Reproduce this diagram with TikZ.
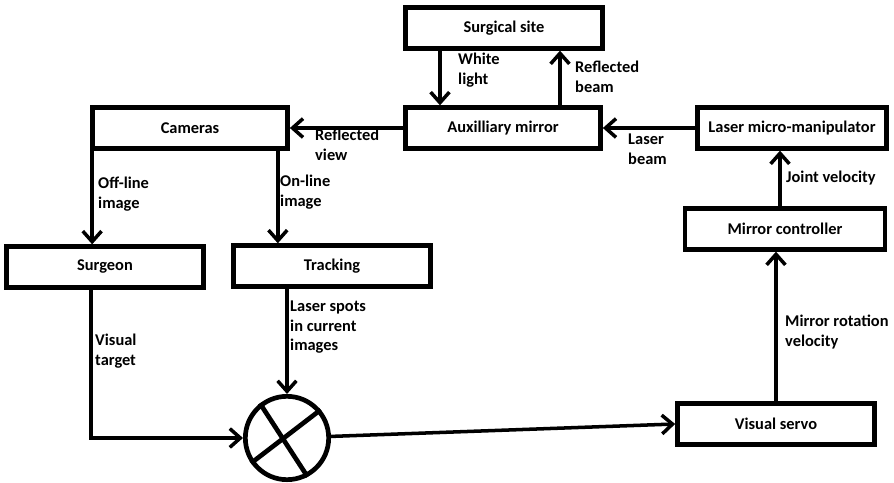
\documentclass[tikz,border=0pt]{standalone}
\usepackage{fontspec}
\setmainfont{Carlito}
\usepackage{tikz}
\usetikzlibrary{arrows.meta,positioning,calc}

\begin{document}
\begin{tikzpicture}[
    x=0.03cm, y=-0.03cm,
    box/.style={draw, line width=4pt, minimum height=1.22cm, align=center, font=\fontsize{14}{16.5}\selectfont\bfseries},
    lbl/.style={anchor=north west, align=left, inner sep=0pt, font=\fontsize{14}{16.5}\selectfont\bfseries},
    arrow/.style={-{Straight Barb[length=9pt, width=16pt, line width=3pt]}, line width=3pt}
]
    \useasboundingbox (0,0) rectangle (894,483);

    \node[box, minimum width=5.91cm] (site) at (504,28) {Surgical site};
    \node[box, minimum width=5.85cm] (aux) at (503,128) {Auxilliary mirror};
    \node[box, minimum width=5.85cm] (cameras) at (190,128) {Cameras};
    \node[box, minimum width=5.67cm] (laser) at (792,128) {Laser micro-manipulator};
    \node[box, minimum width=6.0cm] (ctrl) at (785,229) {Mirror controller};
    \node[box, minimum width=5.91cm] (surgeon) at (105,267) {Surgeon};
    \node[box, minimum width=5.91cm] (tracking) at (332,266) {Tracking};
    \node[box, minimum width=5.91cm] (servo) at (776,424) {Visual servo};
    \node[draw, circle, line width=4pt, minimum size=2.5cm, inner sep=0pt] (sum) at (287,438) {};
    \draw[line width=4pt] (sum.128) -- (sum.-62);
    \draw[line width=4pt] (sum.40) -- (sum.215);

    % Mirror loop at the top
    \draw[arrow] ($(site.south)+(-64,0)$) -- ($(aux.north)+(-63,0)$);
    \node[lbl] (white) at (458,53) {White\\light};
    \draw[arrow] ($(aux.north)+(57,0)$) -- ($(site.south)+(56,0)$);
    \node[lbl] (refbeam) at (575,61) {Reflected\\beam};
    \draw[arrow] (aux.west) -- (cameras.east);
    \node[lbl] (refview) at (315,129) {Reflected\\view};
    \draw[arrow] (laser.west) -- (aux.east);
    \node[lbl] (beam) at (628,134) {Laser\\beam};

    % Cameras to surgeon and tracking
    \coordinate (offtop) at ($(cameras.south west)+(2,0)$);
    \coordinate (ontop) at ($(cameras.south east)+(-12,0)$);
    \draw[arrow] (offtop) -- (offtop |- surgeon.north);
    \node[lbl] (offline) at (98,177) {Off-line\\image};
    \draw[arrow] (ontop) -- (ontop |- tracking.north);
    \node[lbl] (online) at (280,175) {On-line\\image};

    % Comparison
    \draw[arrow] (sum.north |- tracking.south) -- (sum.north);
    \node[lbl] (spots) at (290,301) {Laser spots\\in current\\images};
    \coordinate (goal) at ($(surgeon.south)+(-14,0)$);
    \draw[arrow] (goal) |- (sum.west);
    \node[lbl] (target) at (95,334) {Visual\\target};
    \draw[arrow] (sum) -- (servo.west);

    % Servo loop
    \draw[arrow] (servo.north) -- (servo.north |- ctrl.south);
    \node[lbl] (rotvel) at (785,315) {Mirror rotation\\velocity};
    \coordinate (joint) at ($(ctrl.north)+(-5,0)$);
    \draw[arrow] (joint) -- (joint |- laser.south);
    \node[lbl] (jointvel) at (786,171) {Joint velocity};
\end{tikzpicture}
\end{document}
